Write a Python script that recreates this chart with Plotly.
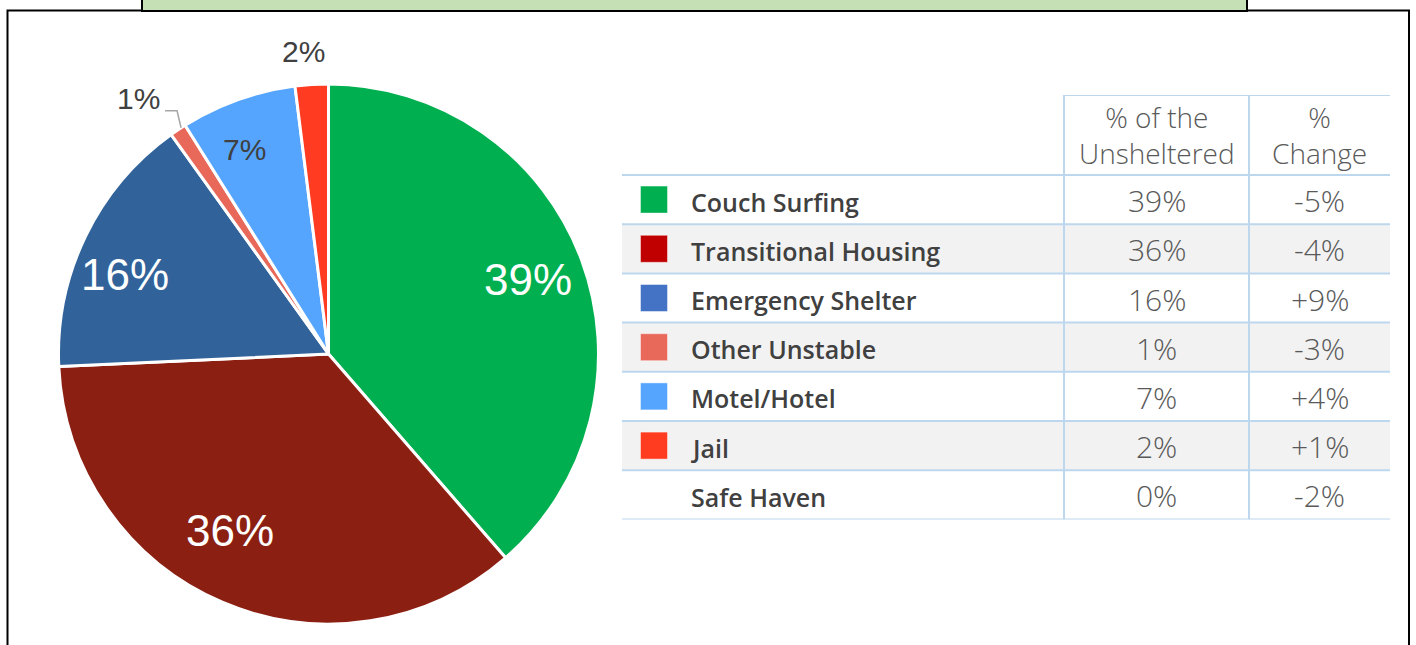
import math
import plotly.graph_objects as go

W, H = 1416, 645

# ---- data -------------------------------------------------------------
categories = ["Couch Surfing", "Transitional Housing", "Emergency Shelter",
              "Other Unstable", "Motel/Hotel", "Jail", "Safe Haven"]
share_pct = [39, 36, 16, 1, 7, 2, 0]          # % of the unsheltered
change_pct = [-5, -4, 9, -3, 4, 1, -2]        # % change
header_labels = ["% of the<br>Unsheltered", "%<br>Change"]

# ---- styling ----------------------------------------------------------
slice_colors = ["#00B050", "#8B1F12", "#31639A", "#E8695A", "#55A5FF", "#FF3C21", None]
swatch_colors = ["#00B050", "#C00000", "#4472C4", "#E8695A", "#55A5FF", "#FF3B20", None]

PIE_CX, PIE_CY, PIE_R = 328.5, 354.0, 270.0   # pixels
# label placement: radial fraction of the radius and an angular nudge (deg)
label_rfrac = [0.79, 0.75, 0.81, 1.18, 0.82, 1.125]
label_nudge = [0.0, 6.0, -4.6, -2.7, -2.7, -1.2]

# table frame (pixels)
TBL_LEFT, TBL_TOP, ROW_H, HDR_H = 622, 95, 49.2, 80
col_widths = [442, 185, 141]

def px(x):
    return x / W

def py(y):
    return 1 - y / H

fig = go.Figure()

# ---- pie ---------------------------------------------------------------
pie_idx = [i for i, v in enumerate(share_pct) if v > 0]
pie_vals = [share_pct[i] for i in pie_idx]
fig.add_trace(go.Pie(
    labels=[categories[i] for i in pie_idx],
    values=pie_vals,
    marker=dict(colors=[slice_colors[i] for i in pie_idx],
                line=dict(color="white", width=3)),
    sort=False, direction="clockwise", rotation=0,
    textinfo="none", hoverinfo="label+value", showlegend=False,
    domain=dict(x=[px(PIE_CX - PIE_R), px(PIE_CX + PIE_R)],
                y=[py(PIE_CY + PIE_R), py(PIE_CY - PIE_R)]),
))

annotations = []
shapes = []
total = sum(pie_vals)
cum = 0.0
for k, v in enumerate(pie_vals):
    mid = (cum + v / 2) / total * 360.0
    cum += v
    ang = math.radians(mid + label_nudge[k])
    r = label_rfrac[k] * PIE_R
    lx = PIE_CX + r * math.sin(ang)
    ly = PIE_CY - r * math.cos(ang)
    big = v >= 10
    annotations.append(dict(
        x=px(lx), y=py(ly), xref="paper", yref="paper", showarrow=False,
        text=f"{v}%", xanchor="center", yanchor="middle",
        font=dict(family="Liberation Sans, Arial", size=44 if big else 30,
                  color="white" if big else "#404040"),
    ))
    if label_rfrac[k] > 1.15:
        # leader line from the label down to the slice edge
        a0 = math.radians(mid)
        ex = PIE_CX + PIE_R * math.sin(a0) + 3
        ey = PIE_CY - PIE_R * math.cos(a0) - 2
        bx, by = ex - 4, ey - 17
        sx = bx - 12
        shapes.append(dict(
            type="path", xref="paper", yref="paper",
            path=f"M {px(sx)} {py(by)} L {px(bx)} {py(by)} L {px(ex)} {py(ey)}",
            line=dict(color="#A6A6A6", width=1.5),
        ))

# ---- table -------------------------------------------------------------
n_rows = len(categories)
hdr_units = HDR_H / ROW_H
tbl_w = sum(col_widths)
c1 = col_widths[0]
c2 = col_widths[0] + col_widths[1]

fig.update_layout(
    xaxis=dict(domain=[px(TBL_LEFT), px(TBL_LEFT + tbl_w)], range=[0, tbl_w],
               visible=False, fixedrange=True),
    yaxis=dict(domain=[py(TBL_TOP + HDR_H + ROW_H * n_rows), py(TBL_TOP)],
               range=[n_rows, -hdr_units], visible=False, fixedrange=True),
)

grid = dict(color="#BDD7EE", width=2)
for i in range(n_rows):
    if i % 2 == 1:
        shapes.append(dict(type="rect", xref="x", yref="y", x0=0, x1=tbl_w,
                           y0=i, y1=i + 1, fillcolor="#F2F2F2",
                           line=dict(width=0), layer="below"))
for i in range(n_rows + 1):
    shapes.append(dict(type="line", xref="x", yref="y", x0=0, x1=tbl_w,
                       y0=i, y1=i, line=grid, layer="below"))
shapes.append(dict(type="line", xref="x", yref="y", x0=c1, x1=tbl_w,
                   y0=-hdr_units, y1=-hdr_units, line=grid, layer="below"))
for cx in (c1, c2):
    shapes.append(dict(type="line", xref="x", yref="y", x0=cx, x1=cx,
                       y0=-hdr_units, y1=n_rows, line=grid, layer="below"))

# colour swatches
sw = [i for i in range(n_rows) if swatch_colors[i]]
fig.add_trace(go.Scatter(
    x=[32] * len(sw), y=[i + 0.5 for i in sw], mode="markers",
    marker=dict(symbol="square", size=27, color=[swatch_colors[i] for i in sw],
                line=dict(color="rgba(255,255,255,0.45)", width=1)),
    hoverinfo="skip", showlegend=False,
))

label_font = dict(family="Open Sans", size=25, color="#404040", weight=600)
num_font = dict(family="Open Sans", size=30, color="#595959", weight=300)
hdr_font = dict(family="Open Sans", size=28, color="#595959", weight=300)

for i, name in enumerate(categories):
    annotations.append(dict(x=67, y=i + 0.5, xref="x", yref="y", text=name,
                            showarrow=False, xanchor="left", yanchor="middle",
                            yshift=-2, font=label_font))
    annotations.append(dict(x=(c1 + c2) / 2, y=i + 0.5, xref="x", yref="y",
                            text=f"{share_pct[i]}%", showarrow=False,
                            xanchor="center", yanchor="middle", yshift=-1,
                            font=num_font))
    annotations.append(dict(x=(c2 + tbl_w) / 2, y=i + 0.5, xref="x", yref="y",
                            text=f"{change_pct[i]:+d}%" if change_pct[i] else "0%",
                            showarrow=False, xanchor="center", yanchor="middle",
                            yshift=-1, font=num_font))
for j, txt in enumerate(header_labels):
    x_center = (c1 + c2) / 2 if j == 0 else (c2 + tbl_w) / 2
    annotations.append(dict(x=x_center, y=-hdr_units / 2, xref="x", yref="y",
                            text=txt, showarrow=False, xanchor="center",
                            yanchor="middle", font=hdr_font))

# ---- frame and title box ----------------------------------------------
shapes.append(dict(type="rect", xref="paper", yref="paper",
                   x0=px(7.5), x1=px(1409), y0=-0.2, y1=py(10.5),
                   line=dict(color="black", width=2), fillcolor="rgba(0,0,0,0)",
                   layer="below"))
shapes.append(dict(type="rect", xref="paper", yref="paper",
                   x0=px(142), x1=px(1247), y0=py(11), y1=1.1,
                   line=dict(color="black", width=2), fillcolor="#C5E0B4",
                   layer="below"))

fig.update_layout(
    width=W, height=H, margin=dict(l=0, r=0, t=0, b=0),
    paper_bgcolor="white", plot_bgcolor="rgba(0,0,0,0)",
    shapes=shapes, annotations=annotations, showlegend=False,
)

fig.write_html("out.html")
